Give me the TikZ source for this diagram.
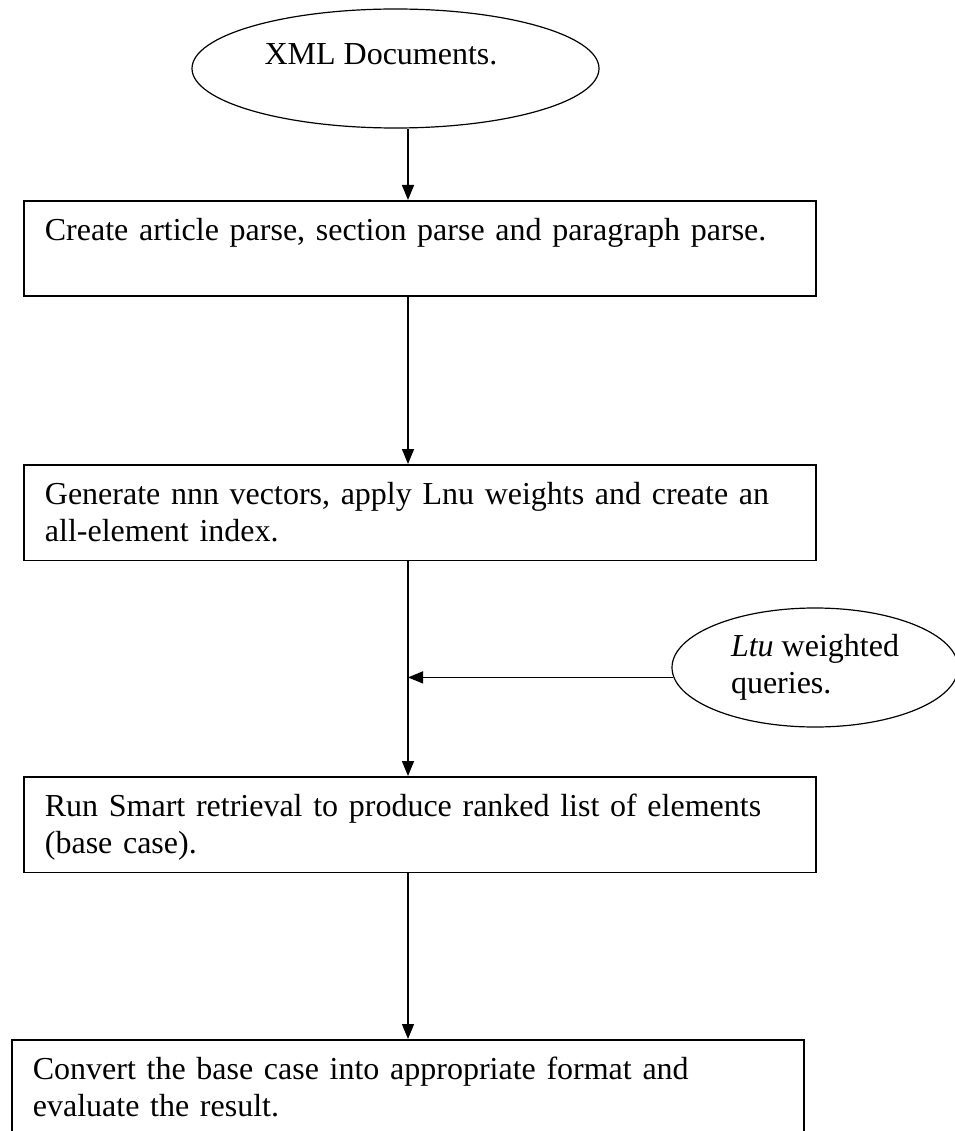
\documentclass[tikz,border=0pt]{standalone}
\usepackage{fontspec}
\setmainfont{Liberation Serif}
\usetikzlibrary{shapes.geometric,arrows.meta}
\begin{document}
\begin{tikzpicture}[x=1pt, y=1pt,
		every node/.style={font=\fontsize{32}{37}\selectfont},
		stage/.style={draw, line width=1.8pt, anchor=north west, inner xsep=21pt, inner ysep=14pt,
			text width=750pt, align=left, text height=26pt, text depth=41.5pt},
		bubble/.style={draw, ellipse, line width=1.2pt, inner sep=0pt, minimum height=119pt},
		flow/.style={line width=1.5pt, -{Triangle[length=15pt,width=12pt]}}]

	\useasboundingbox (0,0) rectangle (954,-1131);

	\node[bubble, minimum width=407pt, text height=20pt, text depth=27pt] (xml) at (395.5,-68.5)
		{XML Documents.\hspace*{29pt}};
	\node[bubble, minimum width=286pt, align=left] (query) at (815,-667.5)
		{\textit{Ltu} weighted\\queries.};

	\node[stage] (box1) at (23,-200) {Create article parse, section parse and paragraph parse.};
	\node[stage] (box2) at (23,-464) {Generate nnn vectors, apply Lnu weights and create an\\all-element index.};
	\node[stage] (box3) at (23,-776) {Run Smart retrieval to produce ranked list of elements\\(base case).};
	\node[stage] (box4) at (11,-1039) {Convert the base case into appropriate format and\\evaluate the result.};

	\coordinate (spine) at (408,0);

	\draw[flow] (xml.south -| spine) -- (box1.north -| spine);
	\draw[flow] (box1.south -| spine) -- (box2.north -| spine);
	\draw[flow] (box2.south -| spine) -- (box3.north -| spine);
	\draw[flow, line width=1.3pt] (query.184) -- (query.184 -| spine);
	\draw[flow] (box3.south -| spine) -- (box4.north -| spine);
\end{tikzpicture}
\end{document}
